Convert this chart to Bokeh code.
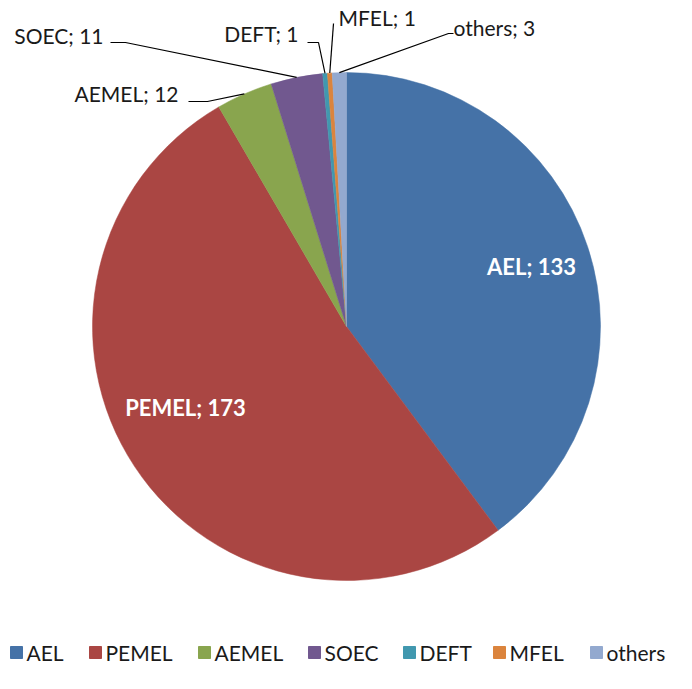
import math
from bokeh.plotting import figure
from bokeh.models import Range1d, ColumnDataSource
from bokeh.core.properties import value
from bokeh.embed import file_html
from bokeh.resources import INLINE

categories = ["AEL", "PEMEL", "AEMEL", "SOEC", "DEFT", "MFEL", "others"]
counts = [133, 173, 12, 11, 1, 1, 3]
colors = ["#4572A7", "#AA4643", "#89A54E", "#71588F", "#4198AF", "#DB843D", "#93A9CF"]

W, H = 676, 673
def sx(px):
    return px
def sy(py):
    return H - py

p = figure(width=W, height=H, output_backend="svg", toolbar_location=None,
           x_range=Range1d(0, W), y_range=Range1d(0, H), min_border=0)
p.axis.visible = False
p.grid.visible = False
p.outline_line_color = None
p.background_fill_color = "white"
p.border_fill_color = "white"

cx, cy, R = 346, 326, 254
total = sum(counts)
starts, ends, mids = [], [], []
acc = 0
for c in counts:
    f0 = acc / total
    acc += c
    f1 = acc / total
    starts.append(math.pi / 2 - f0 * 2 * math.pi)
    ends.append(math.pi / 2 - f1 * 2 * math.pi)
    mids.append((f0 + f1) / 2 * 2 * math.pi)

src = ColumnDataSource(dict(x=[sx(cx)] * len(counts), y=[sy(cy)] * len(counts),
                            start=starts, end=ends, color=colors, cat=categories))
p.wedge(x="x", y="y", radius=R, radius_units="screen", start_angle="start", end_angle="end",
        direction="clock", fill_color="color", line_color="color", line_width=0.5, source=src)

font = value("Lato")

# inside labels
inside = {"AEL": (531, 266), "PEMEL": (185, 407)}
for name, (px, py) in inside.items():
    i = categories.index(name)
    p.text(x=[sx(px)], y=[sy(py)], text=[f"{name}; {counts[i]}"], text_font=font,
           text_font_size="22px", text_font_style="bold", text_color="white",
           text_align="center", text_baseline="middle")

# outside labels with leader lines: (line start, elbow point, text position, align)
outside = {
    "AEMEL": ((188, 101), (207, 101), (178, 93), "right"),
    "SOEC": ((110, 42), (125, 42), (103, 35), "right"),
    "DEFT": ((307, 42), (318, 42), (298, 33), "right"),
    "MFEL": ((333, 23), (333, 23), (338, 17), "left"),
    "others": ((453, 33), (448, 33), (453, 27), "left"),
}
for name, (a, b, t, align) in outside.items():
    i = categories.index(name)
    ang = mids[i]
    ex = cx + R * math.sin(ang)
    ey = cy - R * math.cos(ang)
    xs = [sx(a[0]), sx(b[0]), sx(ex)]
    ys = [sy(a[1]), sy(b[1]), sy(ey)]
    p.line(x=xs, y=ys, line_color="black", line_width=1.2)
    p.text(x=[sx(t[0])], y=[sy(t[1])], text=[f"{name}; {counts[i]}"], text_font=font,
           text_font_size="21px", text_color="#1a1a1a", text_align=align,
           text_baseline="middle")

# legend
leg_x = [10, 89, 198, 308, 403, 493, 590]
leg_y = 652
for i, name in enumerate(categories):
    p.rect(x=[sx(leg_x[i] + 6)], y=[sy(leg_y)], width=12, height=12,
           width_units="screen", height_units="screen",
           fill_color=colors[i], line_color=colors[i])
    p.text(x=[sx(leg_x[i] + 16)], y=[sy(leg_y)], text=[name], text_font=font,
           text_font_size="21px", text_color="#1a1a1a", text_align="left",
           text_baseline="middle")

open("out.html", "w").write(file_html(p, INLINE))
